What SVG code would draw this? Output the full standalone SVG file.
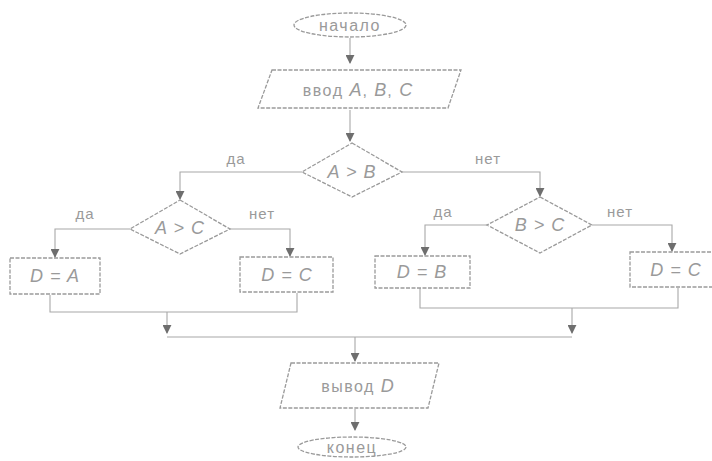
<svg xmlns="http://www.w3.org/2000/svg" width="712" height="461" viewBox="0 0 712 461">
<defs>
<marker id="ah" viewBox="0 0 10 10" refX="9" refY="5" markerWidth="9" markerHeight="9" markerUnits="userSpaceOnUse" orient="auto">
<path d="M0,0 L10,5 L0,10 z" fill="#6e6e6e"/>
</marker>
<style>
.shape{fill:none;stroke:#9a9a9a;stroke-width:1.3;stroke-dasharray:4 1.5}
.conn{fill:none;stroke:#a8a8a8;stroke-width:1.1}
.arr{marker-end:url(#ah)}
text{font-family:"Liberation Sans",Arial,sans-serif;fill:#9a9a9a;text-anchor:middle;dominant-baseline:central}
.t{font-size:16px;letter-spacing:1.5px}
.v{font-style:italic;font-size:18px;letter-spacing:1px}
.lab{font-size:15px;letter-spacing:1px}
</style>
</defs>
<rect width="712" height="461" fill="#ffffff"/>
<g id="connectors">
<path class="conn arr" d="M350,38 V63"/>
<path class="conn arr" d="M350,110 V141"/>
<path class="conn arr" d="M302,172 H180 V199"/>
<path class="conn arr" d="M402,172 H540 V196"/>
<path class="conn arr" d="M130,229 H55 V257"/>
<path class="conn arr" d="M230,229 H290 V256"/>
<path class="conn arr" d="M487,225 H425 V255"/>
<path class="conn arr" d="M592,225 H672 V251"/>
<path class="conn" d="M50,295 V312 H297 V293"/>
<path class="conn arr" d="M167,312 V333"/>
<path class="conn" d="M420,288 V308 H678 V288"/>
<path class="conn arr" d="M572,308 V333"/>
<path class="conn" d="M167,337 H572"/>
<path class="conn arr" d="M355,337 V361"/>
<path class="conn arr" d="M355,409 V430"/>
</g>
<g id="start">
<ellipse class="shape" cx="350" cy="25" rx="56" ry="12"/>
<text class="t" x="350" y="25">начало</text>
</g>
<g id="input">
<polygon class="shape" points="272,70 461,70 448,108 258,108"/>
<text class="t" x="358" y="90">ввод  <tspan class="v">A</tspan>, <tspan class="v">B</tspan>, <tspan class="v">C</tspan></text>
</g>
<g id="d1">
<polygon class="shape" points="352,143 402,172 352,197 302,172"/>
<text class="v" x="352" y="172">A &gt; B</text>
</g>
<text class="lab" x="236" y="158">да</text>
<text class="lab" x="488" y="158">нет</text>
<g id="d2">
<polygon class="shape" points="180,200 230,229 180,254 130,229"/>
<text class="v" x="180" y="228">A &gt; C</text>
</g>
<text class="lab" x="85" y="213">да</text>
<text class="lab" x="262" y="213">нет</text>
<g id="d3">
<polygon class="shape" points="540,197 592,225 540,253 487,225"/>
<text class="v" x="540" y="225">B &gt; C</text>
</g>
<text class="lab" x="443" y="211">да</text>
<text class="lab" x="620" y="211">нет</text>
<g id="bA">
<rect class="shape" x="10" y="258" width="90" height="36"/>
<text class="v" x="55" y="276">D = A</text>
</g>
<g id="bC1">
<rect class="shape" x="240" y="257" width="93" height="35"/>
<text class="v" x="287" y="275">D = C</text>
</g>
<g id="bB">
<rect class="shape" x="375" y="256" width="95" height="32"/>
<text class="v" x="422" y="272">D = B</text>
</g>
<g id="bC2">
<rect class="shape" x="630" y="252" width="90" height="35"/>
<text class="v" x="676" y="270">D = C</text>
</g>
<g id="output">
<polygon class="shape" points="291,363 439,363 428,408 280,408"/>
<text class="t" x="358" y="386">вывод  <tspan class="v">D</tspan></text>
</g>
<g id="end">
<ellipse class="shape" cx="352" cy="447" rx="54" ry="10"/>
<text class="t" x="352" y="447">конец</text>
</g>
</svg>
